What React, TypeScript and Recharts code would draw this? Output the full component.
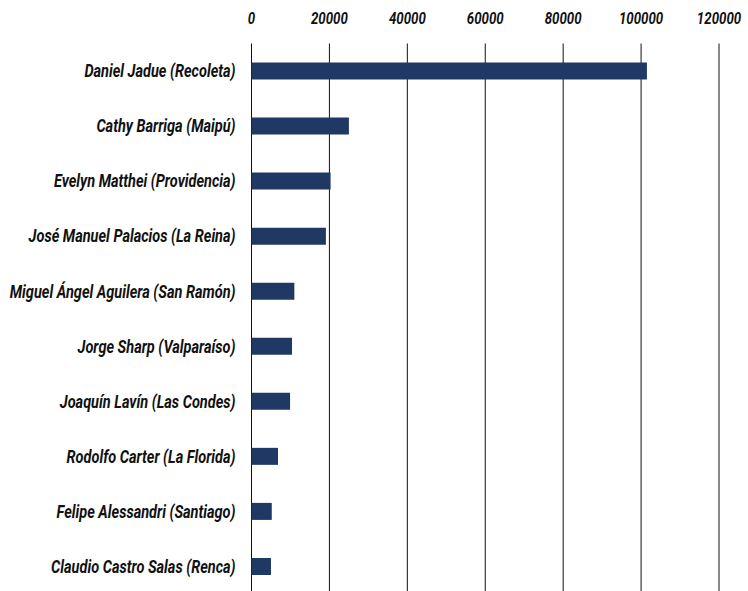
import { BarChart, Bar, XAxis, YAxis, CartesianGrid } from 'recharts';

const candidates = [
  'Daniel Jadue (Recoleta)',
  'Cathy Barriga (Maipú)',
  'Evelyn Matthei (Providencia)',
  'José Manuel Palacios (La Reina)',
  'Miguel Ángel Aguilera (San Ramón)',
  'Jorge Sharp (Valparaíso)',
  'Joaquín Lavín (Las Condes)',
  'Rodolfo Carter (La Florida)',
  'Felipe Alessandri (Santiago)',
  'Claudio Castro Salas (Renca)',
];

const votes = [101500, 25000, 20300, 19100, 11000, 10400, 9900, 6800, 5200, 5000];

const xTicks = [0, 20000, 40000, 60000, 80000, 100000, 120000];

const chartData = candidates.map((name, i) => ({ name, value: votes[i] }));

// condensed look: no narrow font installed, so squeeze Roboto horizontally
const font = 'Roboto, sans-serif';

const YTick = ({ x, y, payload }: any) => (
  <g transform={`translate(${x},${y})`}>
    <text
      transform="scale(0.765,1)"
      textAnchor="end"
      dy="0.33em"
      fontFamily={font}
      fontSize={19}
      fontWeight={700}
      fontStyle="italic"
      fill="#111"
    >
      {payload.value}
    </text>
  </g>
);

const XTick = ({ x, y, payload }: any) => (
  <g transform={`translate(${x},${y})`}>
    <text
      transform="scale(0.78,1)"
      textAnchor="middle"
      fontFamily={font}
      fontSize={17}
      fontWeight={700}
      fontStyle="italic"
      fill="#111"
    >
      {payload.value}
    </text>
  </g>
);

export default function App() {
  return (
    <div style={{ position: 'fixed', top: 0, left: 0, width: 748, height: 591, overflow: 'hidden', background: '#fff' }}>
      <BarChart
        width={748}
        height={600}
        data={chartData}
        layout="vertical"
        margin={{ top: 0, right: 29, bottom: 6, left: 0 }}
        barCategoryGap={0}
      >
        <CartesianGrid horizontal={false} stroke="#111" strokeWidth={1} />
        <XAxis
          type="number"
          orientation="top"
          domain={[0, 120000]}
          ticks={xTicks}
          axisLine={false}
          tickLine={false}
          tickSize={0}
          tickMargin={19.5}
          height={43.5}
          interval={0}
          tick={<XTick />}
        />
        <YAxis
          type="category"
          dataKey="name"
          width={251.5}
          axisLine={false}
          tickLine={false}
          tickSize={0}
          tickMargin={16}
          interval={0}
          tick={<YTick />}
        />
        <Bar dataKey="value" fill="#203864" barSize={17} isAnimationActive={false} />
      </BarChart>
    </div>
  );
}
